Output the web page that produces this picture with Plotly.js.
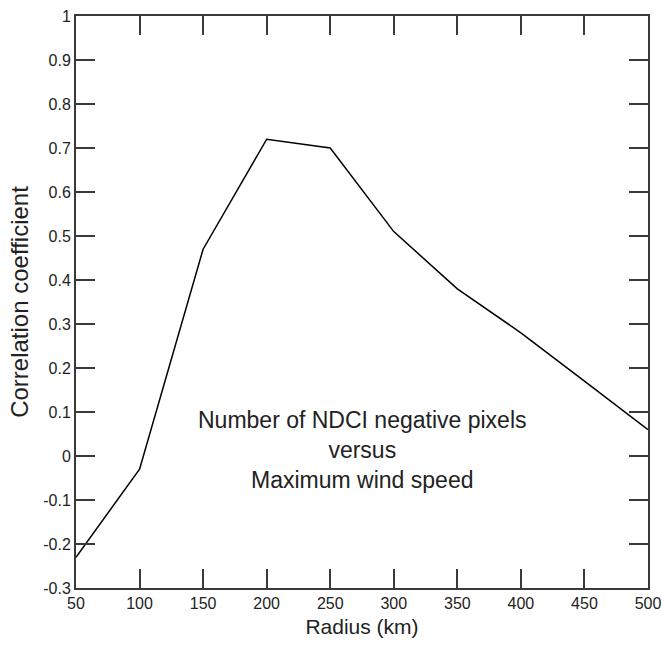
<!DOCTYPE html>
<html><head><meta charset="utf-8">
<script src="https://cdn.plot.ly/plotly-3.0.1.min.js"></script>
<style>body{margin:0;background:#fff}#chart{width:662px;height:645px}</style>
</head><body><div id="chart"></div>
<script>
const radius = [50, 100, 150, 200, 250, 300, 350, 400, 450, 500];
const correlation = [-0.23, -0.03, 0.47, 0.72, 0.70, 0.51, 0.38, 0.28, 0.17, 0.06];
const xTicks = [50, 100, 150, 200, 250, 300, 350, 400, 450, 500];
const yTicks = [-0.3, -0.2, -0.1, 0, 0.1, 0.2, 0.3, 0.4, 0.5, 0.6, 0.7, 0.8, 0.9, 1];
const yTickText = yTicks.map(v => String(Math.round(v*10)/10));

const font = 'Liberation Sans, Arial, sans-serif';
const axisCommon = {
  showgrid: false, zeroline: false, showline: true, linecolor: '#3a3a3a', linewidth: 2,
  mirror: 'ticks', ticks: 'inside', ticklen: 19, tickwidth: 2, tickcolor: '#3a3a3a',
  tickfont: {family: font, size: 16, color: '#222'}
};
Plotly.newPlot('chart', [{
  x: radius, y: correlation, type: 'scatter', mode: 'lines',
  line: {color: '#000', width: 1.5}, hoverinfo: 'none'
}], {
  width: 662, height: 645,
  margin: {l: 76, r: 14, t: 16, b: 57},
  paper_bgcolor: '#fff', plot_bgcolor: '#fff',
  showlegend: false,
  xaxis: Object.assign({}, axisCommon, {
    range: [50, 500], tickvals: xTicks, ticktext: xTicks.map(String),
    title: {text: 'Radius (km)', font: {family: font, size: 21, color: '#222'}, standoff: 8}
  }),
  yaxis: Object.assign({}, axisCommon, {
    range: [-0.3, 1], tickvals: yTicks, ticktext: yTickText,
    title: {text: 'Correlation coefficient', font: {family: font, size: 24, color: '#222'}, standoff: 8}
  }),
  annotations: [{
    x: 0.5, y: 0.241, xref: 'paper', yref: 'paper', yanchor: 'middle', showarrow: false,
    text: 'Number of NDCI negative pixels<br>versus<br>Maximum wind speed',
    font: {family: font, size: 23, color: '#222'}, align: 'center'
  }]
}, {staticPlot: true});
</script></body></html>
